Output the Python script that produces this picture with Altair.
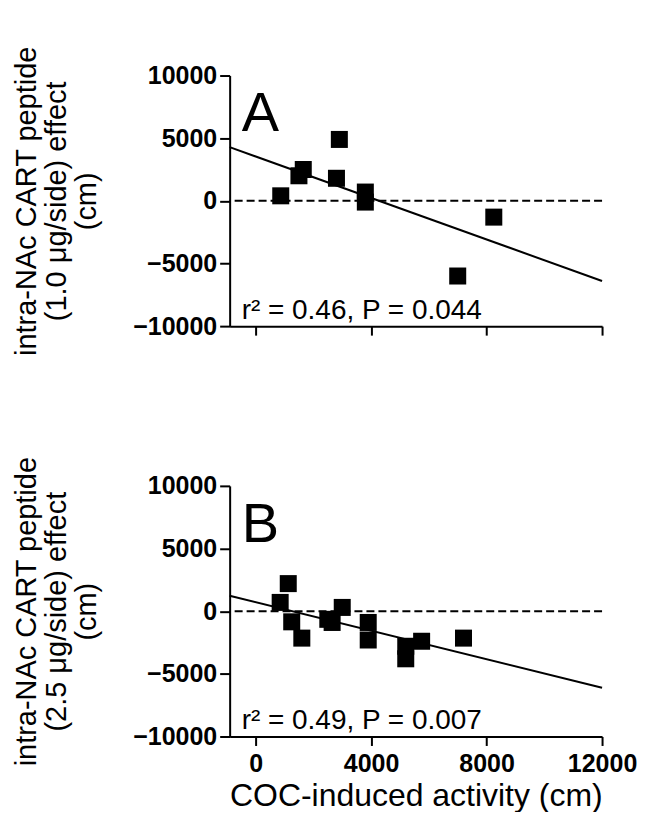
import altair as alt
import pandas as pd

# ---- data ----
a_x = [870, 1500, 1650, 2800, 2900, 3800, 3800, 7000, 8250]
a_y = [400, 2000, 2500, 1800, 4900, 700, -100, -6000, -1300]

b_x = [850, 1130, 1250, 1600, 2500, 2650, 3000, 3900, 3900, 5200, 5200, 5750, 7200]
b_y = [700, 2200, -850, -2150, -650, -900, 300, -900, -2300, -2800, -3800, -2400, -2150]

x_domain = [-900, 12000]
y_domain = [-10000, 10000]
x_ticks = [0, 4000, 8000, 12000]
y_ticks = [-10000, -5000, 0, 5000, 10000]

panel_letters = ["A", "B"]
stats_labels = ["r\u00b2 = 0.46, P = 0.044", "r\u00b2 = 0.49, P = 0.007"]
y_titles = [
    ["intra-NAc CART peptide", "(1.0 \u03bcg/side) effect", "(cm)"],
    ["intra-NAc CART peptide", "(2.5 \u03bcg/side) effect", "(cm)"],
]
x_title = "COC-induced activity (cm)"

FONT = "Liberation Sans"
W, H = 373, 251


def panel(xs, ys, letter, stat, ytitle, bottom):
    df = pd.DataFrame({"x": xs, "y": ys})
    if bottom:
        xaxis = alt.Axis(values=x_ticks, format="d", labelPadding=6, titlePadding=4,
                         title=x_title)
    else:
        xaxis = alt.Axis(values=x_ticks, format="d", labels=False, title=None)
    xenc = alt.X("x:Q", scale=alt.Scale(domain=x_domain, nice=False, zero=False), axis=xaxis)
    yenc = alt.Y("y:Q", scale=alt.Scale(domain=y_domain, nice=False, zero=False),
                 axis=alt.Axis(values=y_ticks, format="d", title=ytitle, tickSize=10,
                               labelPadding=3, titlePadding=31, titleLineHeight=30))

    base = alt.Chart(df)
    zero = alt.Chart(pd.DataFrame({"z": [0]})).mark_rule(
        color="black", strokeWidth=2, strokeDash=[8, 4]
    ).encode(y=alt.Y("z:Q", scale=alt.Scale(domain=y_domain)))
    fit = base.transform_regression("x", "y", extent=x_domain).mark_line(
        color="black", strokeWidth=2
    ).encode(x=xenc, y=yenc)
    pts = base.mark_square(size=290, color="black", opacity=1, filled=True).encode(x=xenc, y=yenc)

    lab = alt.Chart(pd.DataFrame({"t": [letter]})).mark_text(
        font=FONT, fontSize=56, align="left", baseline="alphabetic", color="black"
    ).encode(text="t:N", x=alt.value(12), y=alt.value(56))
    st = alt.Chart(pd.DataFrame({"t": [stat]})).mark_text(
        font=FONT, fontSize=28, align="left", baseline="alphabetic", color="black"
    ).encode(text="t:N", x=alt.value(12), y=alt.value(244))

    return alt.layer(zero, fit, pts, lab, st).properties(width=W, height=H)


pa = panel(a_x, a_y, panel_letters[0], stats_labels[0], y_titles[0], False)
pb = panel(b_x, b_y, panel_letters[1], stats_labels[1], y_titles[1], True)

chart = alt.vconcat(pa, pb, spacing=160, bounds="flush").properties(
    padding={"top": 37, "left": 4, "right": 0, "bottom": 0}
).configure_view(stroke=None).configure_axis(
    domainColor="black", domainWidth=2, tickColor="black", tickWidth=2, tickSize=9,
    grid=False, labelFont=FONT, labelFontSize=25, labelFontWeight="bold",
    labelColor="black", titleFont=FONT, titleFontSize=29, titleFontWeight="normal",
    titleColor="black", labelFlush=False, labelOverlap=False
).configure_axisX(titleFontSize=32)

chart.save("out.html", embed_options={"renderer": "svg", "actions": False})
